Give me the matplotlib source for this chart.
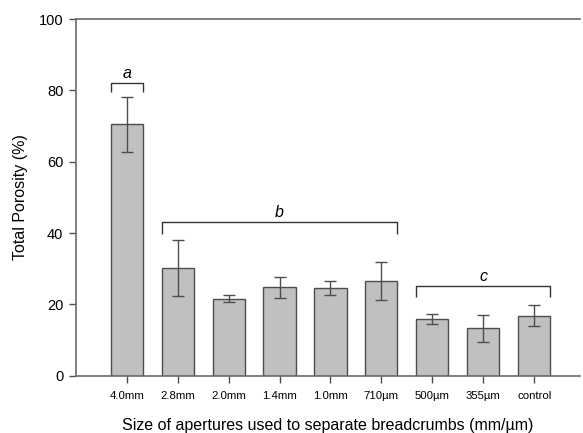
import matplotlib
matplotlib.use("Agg")
import matplotlib.pyplot as plt
from matplotlib import font_manager

plt.rcParams.update({
    "font.family": ["Liberation Sans", "DejaVu Sans"],
    "font.size": 9,
})

# data
sizes = ["4.0mm", "2.8mm", "2.0mm", "1.4mm", "1.0mm", "710µm", "500µm", "355µm", "control"]
porosity = [70.5, 30.3, 21.6, 24.8, 24.6, 26.5, 15.9, 13.3, 16.9]
porosity_err = [7.7, 7.8, 1.0, 3.0, 2.0, 5.3, 1.5, 3.8, 2.9]

# significance groups: (label, first bar, last bar, bracket height, tip height)
groups = [("a", 0, 0, 82.1, 79.5), ("b", 1, 5, 43.1, 39.7), ("c", 6, 8, 25.2, 22.0)]

narrow = "Liberation Sans Narrow"
try:
    font_manager.findfont(narrow, fallback_to_default=False)
except Exception:
    narrow = "Liberation Sans"

edge = "#4d4d4d"
fig = plt.figure(figsize=(5.83, 4.33), dpi=100)
ax = fig.add_axes([0.130, 0.132, 0.865, 0.824])

x = list(range(len(sizes)))
width = 0.63
ax.bar(x, porosity, width=width, color="#c0c0c0", edgecolor=edge, linewidth=1.0, zorder=2)
ax.errorbar(x, porosity, yerr=porosity_err, fmt="none", ecolor=edge, elinewidth=1.0,
            capsize=4.2, capthick=1.0, zorder=3)

for label, i0, i1, top, tip in groups:
    xl = x[i0] - width / 2
    xr = x[i1] + width / 2
    ax.plot([xl, xl, xr, xr], [tip, top, top, tip], color="#333333", lw=1.0,
            solid_capstyle="butt", zorder=3)
    ax.text((xl + xr) / 2, top + 0.6, label, ha="center", va="bottom",
            fontsize=11.5, style="italic")

ax.set_xlim(-1, 8.9)
ax.set_ylim(0, 100)
ax.set_yticks([0, 20, 40, 60, 80, 100])
ax.set_xticks(x)
ax.set_xticklabels(sizes, fontsize=8.2, family=narrow)
ax.tick_params(axis="y", labelsize=10.5, length=5, width=1.0, color=edge, pad=4)
ax.tick_params(axis="x", length=5, width=1.0, color=edge, pad=6)

ax.spines["right"].set_visible(False)
for s in ("left", "top", "bottom"):
    ax.spines[s].set_color("#6a6a6a")
    ax.spines[s].set_linewidth(1.2)

ax.set_ylabel("Total Porosity (%)", fontsize=11.5, labelpad=8)
ax.set_xlabel("Size of apertures used to separate breadcrumbs (mm/µm)", fontsize=11.5, labelpad=12)

fig.savefig("out.png", dpi=100)
